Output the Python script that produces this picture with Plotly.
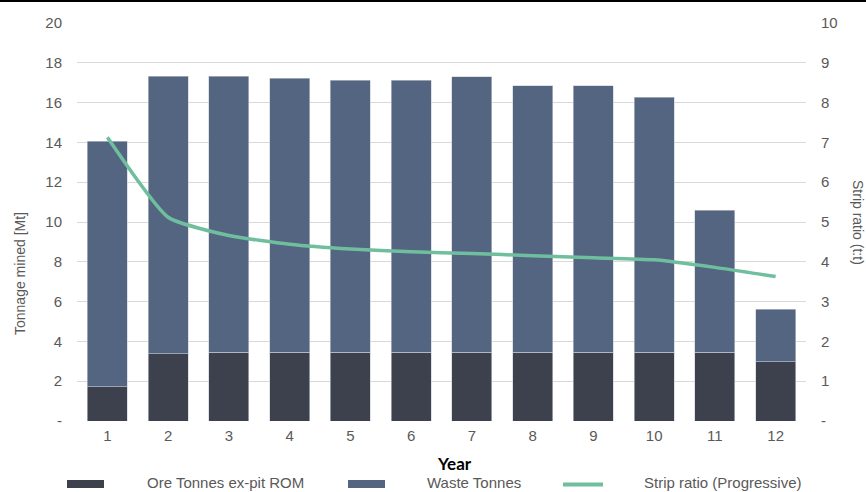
import plotly.graph_objects as go

years = [str(i) for i in range(1, 13)]
ore_tonnes = [1.73, 3.38, 3.46, 3.46, 3.46, 3.46, 3.46, 3.46, 3.46, 3.46, 3.46, 2.98]
total_tonnes = [14.07, 17.33, 17.33, 17.23, 17.12, 17.12, 17.30, 16.85, 16.85, 16.28, 10.60, 5.61]
waste_tonnes = [round(t - o, 2) for t, o in zip(total_tonnes, ore_tonnes)]
strip_ratio = [7.13, 5.12, 4.66, 4.44, 4.32, 4.25, 4.21, 4.15, 4.10, 4.05, 3.86, 3.63]

left_ticks = [0, 2, 4, 6, 8, 10, 12, 14, 16, 18, 20]
left_ticktext = ["-", "2", "4", "6", "8", "10", "12", "14", "16", "18", "20"]
right_ticks = [0, 1, 2, 3, 4, 5, 6, 7, 8, 9, 10]
right_ticktext = ["-", "1", "2", "3", "4", "5", "6", "7", "8", "9", "10"]

ORE_C = "#3c414d"
WASTE_C = "#536580"
LINE_C = "#6fbf9f"
TXT_C = "#595959"
FONT = "Liberation Sans, Arial, sans-serif"

W, H = 866, 492
ML, MR, MT, MB = 77, 60, 23, 71
PW, PH = W - ML - MR, H - MT - MB


def px(x):
    return (x - ML) / PW


def py(y):
    return (H - MB - y) / PH


fig = go.Figure()
fig.add_trace(go.Bar(x=years, y=ore_tonnes, name="Ore Tonnes ex-pit ROM",
                     marker=dict(color=ORE_C, line=dict(color="#c9cdd4", width=0.6)),
                     showlegend=False))
fig.add_trace(go.Bar(x=years, y=waste_tonnes, name="Waste Tonnes",
                     marker=dict(color=WASTE_C, line=dict(color="#c9cdd4", width=0.6)),
                     showlegend=False))
fig.add_trace(go.Scatter(x=years, y=strip_ratio, name="Strip ratio (Progressive)",
                         mode="lines", yaxis="y2",
                         line=dict(color=LINE_C, width=3.5, shape="spline", smoothing=0.5),
                         showlegend=False))

shapes = [
    # top black band
    dict(type="rect", xref="paper", yref="paper", x0=px(0), x1=px(W), y0=py(2), y1=py(0),
         fillcolor="black", line=dict(width=0), layer="above"),
    # legend swatches
    dict(type="rect", xref="paper", yref="paper", x0=px(67), x1=px(104), y0=py(488), y1=py(480),
         fillcolor=ORE_C, line=dict(width=0)),
    dict(type="rect", xref="paper", yref="paper", x0=px(348), x1=px(385), y0=py(488), y1=py(480),
         fillcolor=WASTE_C, line=dict(width=0)),
    dict(type="line", xref="paper", yref="paper", x0=px(563), x1=px(603), y0=py(484.5), y1=py(484.5),
         line=dict(color=LINE_C, width=4)),
]

annotations = [
    dict(text="Ore Tonnes ex-pit ROM", x=px(146), y=py(482), xref="paper", yref="paper",
         xanchor="left", yanchor="middle", showarrow=False, borderpad=0,
         font=dict(size=15, color=TXT_C, family=FONT)),
    dict(text="Waste Tonnes", x=px(426), y=py(482), xref="paper", yref="paper",
         xanchor="left", yanchor="middle", showarrow=False, borderpad=0,
         font=dict(size=15, color=TXT_C, family=FONT)),
    dict(text="Strip ratio (Progressive)", x=px(643), y=py(482), xref="paper", yref="paper",
         xanchor="left", yanchor="middle", showarrow=False, borderpad=0,
         font=dict(size=15, color=TXT_C, family=FONT)),
    dict(text="<b>Year</b>", x=px(454.5), y=py(463.5), xref="paper", yref="paper",
         xanchor="center", yanchor="middle", showarrow=False, borderpad=0,
         font=dict(size=17, color="#000000", family="Lato, Open Sans, sans-serif")),
    dict(text="Tonnage mined [Mt]", x=px(20), y=py(273), xref="paper", yref="paper",
         xanchor="center", yanchor="middle", showarrow=False, textangle=-90,
         font=dict(size=14, color=TXT_C, family=FONT)),
    dict(text="Strip ratio (t:t)", x=px(858), y=py(222), xref="paper", yref="paper",
         xanchor="center", yanchor="middle", showarrow=False, textangle=90,
         font=dict(size=14, color=TXT_C, family=FONT)),
]

fig.update_layout(
    width=W, height=H,
    margin=dict(l=ML, r=MR, t=MT, b=MB, pad=0),
    paper_bgcolor="white", plot_bgcolor="white",
    barmode="stack", bargap=0.34,
    showlegend=False,
    font=dict(family=FONT, size=15, color=TXT_C),
    xaxis=dict(type="category", showgrid=False, zeroline=False, showline=False,
               ticks="", tickfont=dict(size=15, color=TXT_C), ticklabelstandoff=4),
    yaxis=dict(range=[0, 20], tickvals=left_ticks, ticktext=left_ticktext,
               showgrid=True, gridcolor="#d9d9d9", gridwidth=1, zeroline=False,
               showline=False, ticks="", ticklabelstandoff=14,
               tickfont=dict(size=15, color=TXT_C)),
    yaxis2=dict(range=[0, 10], tickvals=right_ticks, ticktext=right_ticktext,
                overlaying="y", side="right", showgrid=False, zeroline=False,
                showline=False, ticks="", ticklabelstandoff=14,
                tickfont=dict(size=15, color=TXT_C)),
    shapes=shapes,
    annotations=annotations,
)

fig.write_html("out.html")
